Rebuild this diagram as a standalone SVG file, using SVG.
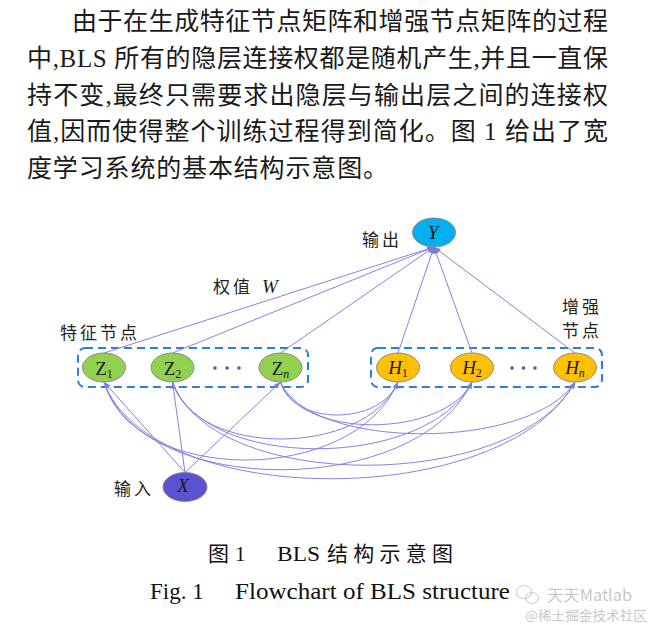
<svg xmlns="http://www.w3.org/2000/svg" width="652" height="625" viewBox="0 0 652 625">
<style>
.para{font-family:"Liberation Serif","Noto Sans CJK SC",serif;font-size:25px;fill:#1a1a1a}
.lbl{font-family:"Noto Sans CJK SC",sans-serif;font-size:17px;fill:#222;letter-spacing:3px}
.nl{font-family:"Liberation Serif",serif;font-size:19px;fill:#1a1a1a;text-anchor:middle}
.it{font-style:italic}
.sub{font-size:12px}
.node{stroke:#8a8a8a;stroke-width:1}
.box{fill:none;stroke:#2b7de0;stroke-width:2;stroke-dasharray:8 5}
.con{fill:none;stroke:#8683e0;stroke-width:1}
.dot{fill:#5552c0}
.cap{font-family:"Liberation Serif","Noto Sans CJK SC",serif;fill:#111}
.wm{font-family:"Noto Sans CJK SC",sans-serif;fill:#c8c8c8}
</style>
<defs>
<marker id="ah" viewBox="0 0 8 6" refX="8" refY="3" markerWidth="7" markerHeight="5" orient="auto" markerUnits="userSpaceOnUse">
<path d="M0,0 L8,3 L0,6 z" fill="#7d7ad8"/>
</marker>
</defs>
<rect width="652" height="625" fill="#fff"/>

<g id="paragraph">
<text class="para" x="72" y="30" textLength="536" lengthAdjust="spacing">由于在生成特征节点矩阵和增强节点矩阵的过程</text>
<text class="para" x="27" y="67" textLength="581" lengthAdjust="spacing">中,BLS 所有的隐层连接权都是随机产生,并且一直保</text>
<text class="para" x="27" y="103.5" textLength="581" lengthAdjust="spacing">持不变,最终只需要求出隐层与输出层之间的连接权</text>
<text class="para" x="27" y="140" textLength="581" lengthAdjust="spacing">值,因而使得整个训练过程得到简化。图 1 给出了宽</text>
<text class="para" x="27" y="176.5" textLength="361" lengthAdjust="spacing">度学习系统的基本结构示意图。</text>
</g>

<g id="group-features">
<rect class="box" x="78" y="348" width="230" height="39" rx="7"/>
<text class="lbl" x="60" y="339">特征节点</text>
<circle class="dot" cx="215" cy="368" r="1.8"/><circle class="dot" cx="227" cy="368" r="1.8"/><circle class="dot" cx="239" cy="368" r="1.8"/>
</g>
<g id="group-enhance">
<rect class="box" x="371" y="348" width="231" height="39" rx="7"/>
<text class="lbl" x="562" y="313" font-size="15.5" letter-spacing="4">增强</text>
<text class="lbl" x="562" y="337" font-size="15.5" letter-spacing="4">节点</text>
<circle class="dot" cx="512" cy="368" r="1.8"/><circle class="dot" cx="523.5" cy="368" r="1.8"/><circle class="dot" cx="535" cy="368" r="1.8"/>
</g>

<g id="node-Y">
<ellipse class="node" cx="434" cy="232.5" rx="21.5" ry="14.5" fill="#00b0f0"/>
<text class="nl it" x="433" y="238.5" font-size="18">Y</text>
<text class="lbl" x="362" y="245.5">输出</text>
</g>
<g id="node-Z1">
<ellipse class="node" cx="104" cy="367.5" rx="21.5" ry="14.5" fill="#92d050"/>
<text class="nl" x="104" y="375">Z<tspan class="sub" dy="3">1</tspan></text>
</g>
<g id="node-Z2">
<ellipse class="node" cx="172.5" cy="367.5" rx="21.5" ry="14.5" fill="#92d050"/>
<text class="nl" x="172.5" y="375">Z<tspan class="sub" dy="3">2</tspan></text>
</g>
<g id="node-Zn">
<ellipse class="node" cx="280.5" cy="367.5" rx="21.5" ry="14.5" fill="#92d050"/>
<text class="nl" x="280.5" y="375">Z<tspan class="sub it" dy="3">n</tspan></text>
</g>
<g id="node-H1">
<ellipse class="node" cx="398" cy="367.5" rx="21.5" ry="14.5" fill="#ffc000"/>
<text class="nl it" x="398" y="374">H<tspan class="sub" font-style="normal" dy="3">1</tspan></text>
</g>
<g id="node-H2">
<ellipse class="node" cx="472" cy="367.5" rx="21.5" ry="14.5" fill="#ffc000"/>
<text class="nl it" x="472" y="374">H<tspan class="sub" font-style="normal" dy="3">2</tspan></text>
</g>
<g id="node-Hn">
<ellipse class="node" cx="575" cy="367.5" rx="21.5" ry="14.5" fill="#ffc000"/>
<text class="nl it" x="575" y="374">H<tspan class="sub" dy="3">n</tspan></text>
</g>
<g id="node-X">
<ellipse class="node" cx="185" cy="487" rx="22" ry="14.5" fill="#5a52d0"/>
<text class="nl it" x="183" y="492" font-size="18">X</text>
<text class="lbl" x="114" y="494.5">输入</text>
</g>

<g id="weight-label">
<text class="lbl" x="213" y="293">权值</text>
<text class="nl it" x="270" y="293" font-size="17">W</text>
</g>

<g id="connectors">
<path class="con" d="M104,353 L434,247" marker-end="url(#ah)"/>
<path class="con" d="M172.5,353 L434,247" marker-end="url(#ah)"/>
<path class="con" d="M280.5,353 L434,247" marker-end="url(#ah)"/>
<path class="con" d="M398,353 L434,247" marker-end="url(#ah)"/>
<path class="con" d="M472,353 L434,247" marker-end="url(#ah)"/>
<path class="con" d="M575,353 L434,247" marker-end="url(#ah)"/>
<path class="con" d="M185,472.5 L104,382" marker-end="url(#ah)"/>
<path class="con" d="M185,472.5 L172.5,382" marker-end="url(#ah)"/>
<path class="con" d="M185,472.5 L280.5,382" marker-end="url(#ah)"/>
<path class="con" d="M280.5,382 C292.3,426 380.4,426 398,382" marker-end="url(#ah)"/>
<path class="con" d="M280.5,382 C299.7,439 443.3,439 472,382" marker-end="url(#ah)"/>
<path class="con" d="M280.5,382 C310,451 530.8,451 575,382" marker-end="url(#ah)"/>
<path class="con" d="M172.5,382 C195,458 364.2,458 398,382" marker-end="url(#ah)"/>
<path class="con" d="M172.5,382 C202.5,471 427,471 472,382" marker-end="url(#ah)"/>
<path class="con" d="M172.5,382 C212.7,493 514.6,493 575,382" marker-end="url(#ah)"/>
<path class="con" d="M104,382 C133.4,486 353.9,486 398,382" marker-end="url(#ah)"/>
<path class="con" d="M104,382 C140.8,499 416.8,499 472,382" marker-end="url(#ah)"/>
<path class="con" d="M104,382 C151.1,511 504.4,511 575,382" marker-end="url(#ah)"/>
</g>

<g id="caption">
<text class="cap" x="208" y="560.5" font-size="21">图</text>
<text class="cap" x="235" y="560.5" font-size="21">1</text>
<text class="cap" x="277" y="560.5" font-size="21" textLength="43" lengthAdjust="spacingAndGlyphs">BLS</text>
<text class="cap" x="327" y="560.5" font-size="21" textLength="126" lengthAdjust="spacing">结构示意图</text>
<text class="cap" x="150" y="599" font-size="23">Fig. 1</text>
<text class="cap" x="235" y="599" font-size="23" textLength="275" lengthAdjust="spacingAndGlyphs">Flowchart of BLS structure</text>
</g>

<g id="watermark">
<ellipse cx="524" cy="592" rx="8" ry="6.5" fill="none" stroke="#d0d0d0" stroke-width="1.2"/>
<ellipse cx="532" cy="598" rx="6.5" ry="5.5" fill="none" stroke="#d0d0d0" stroke-width="1.2"/>
<text class="wm" x="547" y="601" font-size="16" textLength="85" lengthAdjust="spacingAndGlyphs">天天Matlab</text>
<text class="wm" x="525" y="620" font-size="13" textLength="122" lengthAdjust="spacingAndGlyphs">@稀土掘金技术社区</text>
</g>
</svg>
